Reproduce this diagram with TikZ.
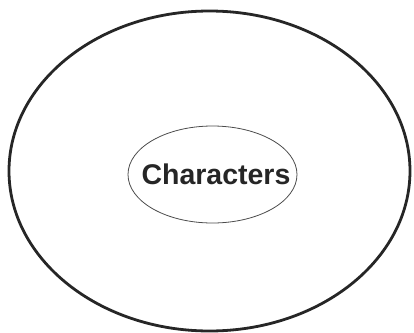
\documentclass[tikz,border=0pt]{standalone}
\usepackage{fontspec}
\setmainfont{Liberation Sans}
\begin{document}
\begin{tikzpicture}[x=1bp,y=-1bp,
  outerring/.style={draw=black!85,line width=2.8bp},
  innerring/.style={draw=black!70,line width=0.8bp},
  label/.style={font=\bfseries\fontsize{28.5bp}{30bp}\selectfont,text=black!85,inner sep=0pt}]
\useasboundingbox (0,0) rectangle (414,333);
\draw[outerring] (209.5,171) ellipse [x radius=200.5, y radius=160];
\draw[innerring] (212.5,174.5) ellipse [x radius=84.5, y radius=48.5];
\node[label,anchor=base] (chars) at (216,184) {Characters};
\end{tikzpicture}
\end{document}
